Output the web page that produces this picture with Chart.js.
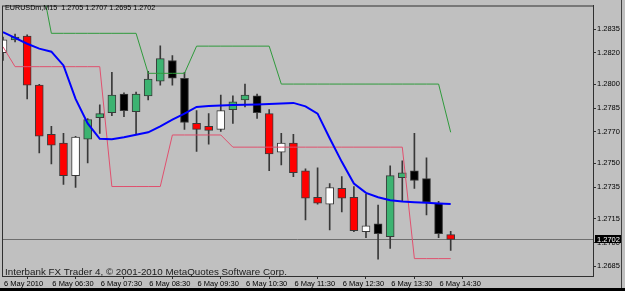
<!DOCTYPE html>
<html>
<head>
<meta charset="utf-8">
<script src="https://cdn.jsdelivr.net/npm/chart.js@4.4.1/dist/chart.umd.min.js"></script>
<style>
  body { margin: 0; background: #000; }
  #wrap { position: relative; width: 625px; height: 288px; background: #c0c0c0; }
</style>
</head>
<body>
<div id="wrap"><canvas id="chart"></canvas></div>
<script>
// EURUSDm M15, 6 May 2010 - bar open times
var barTimes = ['05:30','05:45','06:00','06:15','06:30','06:45','07:00','07:15','07:30','07:45',
    '08:00','08:15','08:30','08:45','09:00','09:15','09:30','09:45','10:00','10:15',
    '10:30','10:45','11:00','11:15','11:30','11:45','12:00','12:15','12:30','12:45',
    '13:00','13:15','13:30','13:45','14:00','14:15','14:30','14:45'];

var openPrices  = [1.28201,1.28282,1.28306,1.27995,1.27684,1.27628,1.27423,1.27653,1.27790,1.27821,
    1.27939,1.27827,1.27927,1.28020,1.28151,1.28039,1.27753,1.27734,1.27715,1.27840,
    1.27902,1.27927,1.27815,1.27572,1.27628,1.27454,1.27286,1.27242,1.27342,1.27286,
    1.27068,1.27118,1.27037,1.27410,1.27454,1.27404,1.27249,1.2705];
var highPrices  = [1.28300,1.28319,1.28313,1.28000,1.27734,1.27690,1.27672,1.27784,1.27871,1.28076,
    1.27946,1.27952,1.28082,1.28244,1.28182,1.28076,1.27834,1.27815,1.27933,1.27927,
    1.28002,1.27939,1.27840,1.27690,1.27684,1.27466,1.27473,1.27373,1.27417,1.27354,
    1.27305,1.27236,1.27485,1.27516,1.27690,1.27535,1.27261,1.2707];
var lowPrices   = [1.28151,1.28269,1.27908,1.27566,1.27497,1.27367,1.27348,1.27504,1.27690,1.27802,
    1.27796,1.27684,1.27902,1.27995,1.27995,1.27715,1.27576,1.27622,1.27703,1.27753,
    1.27858,1.27784,1.27454,1.27491,1.27417,1.27143,1.27242,1.27080,1.27193,1.27068,
    1.27031,1.26894,1.26962,1.27261,1.27342,1.27174,1.27031,1.2695];
var closePrices = [1.28282,1.28300,1.27995,1.27672,1.27616,1.27423,1.27666,1.27778,1.27815,1.27933,
    1.27833,1.27939,1.28033,1.28163,1.28039,1.27759,1.27715,1.27709,1.27834,1.27890,
    1.27933,1.27821,1.27560,1.27628,1.27441,1.27280,1.27249,1.27348,1.27280,1.27074,
    1.27105,1.27056,1.27423,1.27441,1.27392,1.27255,1.27056,1.2702];
// candle type: w = white, g = green, r = red, k = black
var candleKind = ['w','g','r','r','r','r','w','g','g','g',
    'k','g','g','g','k','k','r','r','w','g',
    'g','k','r','w','r','r','r','w','r','r',
    'w','k','g','g','k','k','k','r'];

// indicator lines
var maLine = [1.28331,1.28294,1.28257,1.28226,1.28207,1.28120,1.27908,1.27753,1.27656,1.27653,
    1.27665,1.27681,1.27697,1.27734,1.27777,1.27815,1.27857,1.27863,1.27867,1.27869,
    1.27871,1.27873,1.27876,1.27879,1.27883,1.27861,1.27815,1.27659,1.27510,1.27373,
    1.27314,1.27286,1.27267,1.27260,1.27255,1.27251,1.27247,1.27244];
var upperLine = [1.2872,1.2872,1.2872,1.2872,1.28323,1.28323,1.28323,1.28323,1.28323,1.28323,
    1.28323,1.28323,1.28070,1.28070,1.28070,1.28070,1.28242,1.28242,1.28242,1.28242,
    1.28242,1.28242,1.28242,1.28002,1.28002,1.28002,1.28002,1.28002,1.28002,1.28002,
    1.28002,1.28002,1.28002,1.28002,1.28002,1.28002,1.28002,1.27697];
var lowerLine = [1.28238,1.28112,1.28112,1.28112,1.28112,1.28112,1.28112,1.28112,1.28112,1.27354,
    1.27354,1.27354,1.27354,1.27354,1.27680,1.27680,1.27680,1.27680,1.27680,1.27603,
    1.27603,1.27603,1.27603,1.27603,1.27603,1.27603,1.27603,1.27603,1.27603,1.27603,
    1.27603,1.27603,1.27603,1.27603,1.26898,1.26898,1.26898,1.26898];

var priceTicks = [1.2835, 1.2820, 1.2800, 1.2785, 1.2770, 1.2750, 1.2735, 1.2715, 1.2700, 1.2685];
var timeTickIdx = [0, 4, 8, 12, 16, 20, 24, 28, 32, 36];
var titleText = 'EURUSDm,M15  1.2705 1.2707 1.2695 1.2702';
var copyText = 'Interbank FX Trader 4, \u00a9 2001-2010 MetaQuotes Software Corp.';

var kindColors = { w: '#ffffff', g: '#3cb371', r: '#ff0000', k: '#000000' };

var bodyData = barTimes.map(function (t, i) {
    return { x: i, y: [openPrices[i], closePrices[i]] };
});
var wickData = barTimes.map(function (t, i) {
    return { x: i, y: [lowPrices[i], highPrices[i]] };
});
function linePoints(arr) {
    return arr.map(function (v, i) { return { x: i, y: v }; });
}

// frame, texts and last price marker
var mt4Plugin = {
    id: 'mt4',
    beforeDatasetsDraw: function (chart) {
        var ctx = chart.ctx, a = chart.chartArea;
        var y = Math.round(chart.scales.y.getPixelForValue(closePrices[closePrices.length - 1])) + 0.5;
        ctx.save();
        ctx.strokeStyle = '#6e6e6e';
        ctx.lineWidth = 1;
        ctx.beginPath();
        ctx.moveTo(a.left, y);
        ctx.lineTo(a.right, y);
        ctx.stroke();
        ctx.restore();
    },
    afterDraw: function (chart) {
        var ctx = chart.ctx, a = chart.chartArea;
        ctx.save();
        ctx.strokeStyle = '#303030';
        ctx.lineWidth = 1;
        ctx.strokeRect(a.left + 0.5, a.top + 0.5, a.right - a.left, a.bottom - a.top);

        ctx.fillStyle = '#000';
        ctx.font = '7.2px "Liberation Sans"';
        ctx.textBaseline = 'alphabetic';
        ctx.fillText(titleText, 5, 10);

        ctx.fillStyle = '#202020';
        ctx.font = '9.8px "Liberation Sans"';
        ctx.fillText(copyText, 5, 275);

        // last price box
        var last = closePrices[closePrices.length - 1];
        var py = Math.round(chart.scales.y.getPixelForValue(last));
        ctx.fillStyle = '#000';
        ctx.fillRect(a.right + 2, py - 4, 27, 8);
        ctx.fillStyle = '#fff';
        ctx.font = '7.5px "Liberation Sans"';
        ctx.textBaseline = 'middle';
        ctx.fillText(last.toFixed(4), a.right + 4, py + 0.5);

        ctx.fillStyle = '#404040';
        ctx.fillRect(621, 0, 1, 288);
        ctx.restore();
    }
};

var chart = new Chart(document.getElementById('chart'), {
    type: 'bar',
    data: {
        datasets: [
            { type: 'line', data: linePoints(maLine), borderColor: '#0000ff', borderWidth: 2, pointRadius: 0, order: 0 },
            { type: 'line', data: linePoints(lowerLine), borderColor: '#e0506e', borderWidth: 1, pointRadius: 0, order: 0 },
            { type: 'line', data: linePoints(upperLine), borderColor: '#2f9a3c', borderWidth: 1, pointRadius: 0, order: 0 },
            {
                data: bodyData, grouped: false, barThickness: 8, order: 1,
                backgroundColor: candleKind.map(function (k) { return kindColors[k]; }),
                borderColor: '#3a3a3a', borderWidth: 1, borderSkipped: false
            },
            {
                data: wickData, grouped: false, barThickness: 1, order: 2,
                backgroundColor: '#383838', borderWidth: 0
            }
        ]
    },
    options: {
        responsive: true,
        maintainAspectRatio: false,
        animation: false,
        layout: { padding: { left: 2, top: 1 } },
        plugins: { legend: { display: false }, tooltip: { enabled: false } },
        scales: {
            x: {
                type: 'linear',
                offset: false,
                min: -0.08,
                max: 48.76,
                afterBuildTicks: function (scale) {
                    scale.ticks = timeTickIdx.map(function (i) { return { value: i }; });
                },
                afterFit: function (scale) { scale.height = 12; },
                ticks: {
                    autoSkip: false,
                    maxRotation: 0,
                    align: 'start',
                    labelOffset: 1,
                    padding: 0,
                    color: '#000',
                    font: { family: 'Liberation Sans', size: 7.5 },
                    callback: function (v) {
                        return v === 0 ? '6 May 2010' : '6 May ' + barTimes[v];
                    }
                },
                grid: { display: true, drawOnChartArea: false, tickLength: 3, color: '#303030' },
                border: { display: true, color: '#303030' }
            },
            y: {
                position: 'right',
                min: 1.26788,
                max: 1.28499,
                afterBuildTicks: function (scale) {
                    scale.ticks = priceTicks.map(function (v) { return { value: v }; });
                },
                afterFit: function (scale) { scale.width = 32; },
                ticks: {
                    autoSkip: false,
                    padding: 1,
                    color: '#000',
                    font: { family: 'Liberation Sans', size: 7.5 },
                    callback: function (v) { return v.toFixed(4); }
                },
                grid: { display: true, drawOnChartArea: false, tickLength: 3, color: '#303030' },
                border: { display: true, color: '#303030' }
            }
        }
    },
    plugins: [mt4Plugin]
});
</script>
</body>
</html>
